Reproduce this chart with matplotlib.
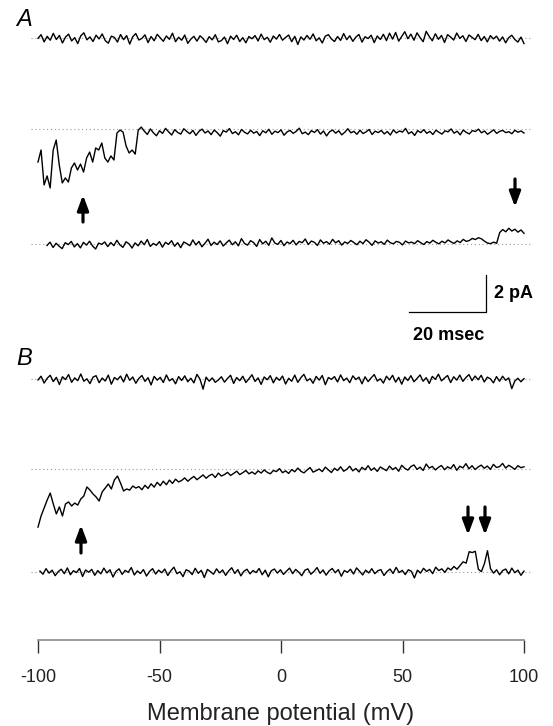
import numpy as np
import matplotlib
matplotlib.use("Agg")
import matplotlib.pyplot as plt

plt.rcParams['font.family'] = ['Liberation Sans', 'DejaVu Sans']
plt.rcParams['axes.unicode_minus'] = False

# Corrientes (pA), rampa de -100 a 100 mV
# A, registro superior (sin canales)
a1_cur = [
    -0.02, 0.18, -0.21, 0.09, -0.12, 0.25, -0.08, 0.14, -0.27, 0.05, 0.21, -0.16, 0.02, -0.30, 0.12, 0.28, -0.10, 0.06, -0.19, 0.15,
    -0.05, 0.22, -0.14, -0.28, 0.10, 0.03, -0.22, 0.19, -0.09, 0.13, -0.33, 0.07, 0.24, -0.11, -0.02, 0.17, -0.25, 0.08, -0.15, 0.20,
    0.01, -0.18, 0.11, -0.07, 0.26, -0.20, 0.04, -0.12, 0.16, -0.29, -0.06, 0.09, -0.17, 0.12, -0.03, -0.24, 0.07, -0.10, 0.18, -0.21,
    -0.14, 0.05, -0.31, 0.10, -0.08, 0.15, -0.19, 0.02, -0.26, 0.08, -0.04, 0.13, -0.16, 0.21, -0.09, 0.04, -0.23, 0.11, -0.06, 0.19,
    -0.12, 0.03, 0.16, -0.20, 0.09, -0.35, 0.06, -0.11, 0.14, -0.07, 0.22, -0.15, 0.01, -0.27, 0.10, 0.18, -0.05, -0.19, 0.08, -0.13,
    0.24, -0.09, 0.12, -0.18, 0.05, 0.19, -0.22, 0.07, -0.03, 0.15, -0.25, 0.11, -0.08, 0.20, -0.14, 0.26, -0.06, 0.30, -0.17, 0.09,
    0.34, -0.04, 0.21, -0.12, 0.28, 0.02, -0.20, 0.36, 0.08, -0.15, 0.23, -0.07, 0.14, -0.24, 0.18, 0.05, -0.11, 0.27, -0.02, 0.12,
    -0.19, 0.16, 0.04, -0.09, 0.20, -0.14, 0.08, -0.21, 0.13, -0.05, 0.10, -0.17, 0.06, -0.26, 0.02, 0.15, -0.08, -0.22, 0.05, -0.30,
]

# A, registro medio (canal abierto al inicio de la rampa)
a2_cur = [
    -1.77, -1.12, -3.01, -2.52, -3.17, -1.12, -0.58, -1.93, -2.90, -2.63, -2.85, -2.09, -1.82, -2.20, -1.88, -2.31, -1.55,
    -1.23, -1.77, -1.01, -1.12, -0.74, -1.55, -1.77, -1.44, -1.66, -0.20, -0.04, -0.15, -0.90, -1.28, -1.12, -1.34, -0.04, 0.12,
    -0.10, -0.28, 0.02, -0.19, -0.35, -0.08, -0.22, 0.05, -0.14, -0.31, -0.02, -0.17, -0.26, 0.03, -0.12, -0.24, -0.06, -0.33, -0.11, 0.01,
    -0.20, -0.09, -0.29, -0.04, -0.18, -0.37, -0.07, -0.15, 0.04, -0.23, -0.13, -0.30, -0.01, -0.16, -0.25, -0.05, -0.21, -0.12, -0.34, -0.08,
    -0.19, 0.00, -0.27, -0.10, -0.18, -0.03, -0.32, -0.14, -0.06, -0.22, -0.11, 0.06, -0.24, -0.15, -0.29, -0.07, -0.17, -0.02, -0.26, -0.09,
    -0.36, -0.13, -0.04, -0.21, -0.08, -0.30, -0.16, 0.03, -0.19, -0.11, -0.27, -0.05, -0.23, -0.14, -0.01, -0.28, -0.10, -0.18, -0.06, -0.25,
    -0.12, -0.31, -0.03, -0.20, -0.09, -0.15, 0.05, -0.24, -0.13, -0.33, -0.07, -0.18, -0.02, -0.22, -0.11, -0.28, -0.05, -0.16, -0.26, -0.08,
    -0.14, 0.02, -0.21, -0.10, -0.30, -0.04, -0.17, -0.25, -0.07, -0.12, 0.01, -0.19, -0.09, -0.27, -0.15, -0.03, -0.22, -0.11, -0.06, -0.18,
    -0.13, -0.24, -0.05, -0.16, -0.09, -0.20,
]

# A, registro inferior (apertura al final de la rampa)
a3_cur = [
    -0.08, 0.10, -0.19, 0.04, -0.12, -0.25, 0.07, -0.03, 0.14, -0.16, 0.02, -0.21, 0.09, -0.06, 0.15, -0.11, -0.27, 0.05, -0.02, 0.11,
    -0.14, 0.08, -0.09, 0.20, -0.05, -0.18, 0.12, 0.01, -0.22, 0.06, -0.10, 0.16, -0.04, 0.24, -0.13, 0.03, -0.07, 0.13, -0.17, 0.09,
    -0.02, 0.18, -0.12, 0.07, -0.20, 0.11, 0.02, -0.09, 0.22, -0.05, 0.14, -0.15, 0.04, 0.26, -0.08, 0.10, -0.03, 0.17, -0.11, 0.06,
    0.21, -0.04, 0.12, -0.10, 0.29, 0.03, -0.06, 0.18, 0.08, -0.13, 0.24, 0.01, 0.15, -0.07, 0.33, 0.05, -0.02, 0.19, -0.09, 0.11,
    0.02, 0.20, -0.05, 0.14, 0.07, 0.27, -0.03, 0.16, 0.09, -0.08, 0.22, 0.04, 0.13, -0.01, 0.25, 0.06, 0.18, -0.06, 0.11, 0.03,
    0.19, 0.08, -0.04, 0.15, 0.02, 0.23, 0.10, -0.07, 0.17, 0.05, 0.12, -0.02, 0.21, 0.07, 0.01, 0.14, 0.09, -0.05, 0.16, 0.06,
    0.10, 0.02, 0.18, 0.07, -0.03, 0.13, 0.05, 0.20, 0.09, 0.01, 0.15, 0.06, 0.22, 0.11, 0.03, 0.17, 0.08, 0.25, 0.14, 0.19,
    0.30, 0.24, 0.34, 0.28, 0.15, 0.05, 0.02, 0.10, 0.04,
    0.62, 0.78, 0.66, 0.85, 0.70, 0.80, 0.64, 0.76, 0.58,
]

# B, registro superior
b1_cur = [
    -0.05, 0.15, -0.22, 0.04, 0.20, -0.14, 0.09, -0.30, 0.12, -0.03, 0.24, -0.18, 0.06, -0.09, 0.27, -0.12, 0.01, -0.25, 0.10, 0.18,
    -0.20, 0.05, -0.11, 0.21, -0.28, 0.08, -0.04, 0.16, -0.16, 0.26, -0.07, 0.11, -0.23, 0.03, 0.19, -0.13, 0.07, -0.32, 0.14, -0.06,
    0.09, -0.19, 0.22, -0.10, 0.02, -0.26, 0.13, -0.08, 0.17, -0.15, 0.04, -0.21, 0.25, -0.01, -0.55, 0.10, -0.12, 0.06, -0.18, -0.05,
    0.12, -0.17, 0.03, 0.20, -0.24, 0.08, -0.09, 0.15, -0.19, 0.01, 0.23, -0.13, 0.06, -0.29, 0.11, -0.04, 0.18, -0.21, 0.09, -0.07,
    0.16, -0.27, 0.04, -0.12, 0.21, -0.18, 0.07, 0.25, -0.10, 0.02, -0.23, 0.14, -0.06, 0.19, -0.31, 0.08, -0.02, 0.13, -0.16, 0.22,
    -0.09, 0.05, -0.20, 0.17, -0.03, 0.10, -0.26, 0.12, -0.14, 0.06, 0.24, -0.11, 0.01, -0.22, 0.15, -0.05, 0.20, -0.17, 0.09, -0.28,
    0.11, -0.08, 0.18, -0.15, 0.03, 0.22, -0.12, 0.07, -0.24, 0.14, -0.02, 0.26, -0.10, 0.05, 0.19, -0.19, 0.12, -0.06, 0.21, -0.13,
    0.08, 0.24, -0.09, 0.16, -0.04, 0.20, -0.16, 0.10, 0.01, -0.21, 0.13, -0.12, 0.15, -0.07, 0.06, -0.52, -0.11, 0.04, -0.15, 0.02,
]

# B, registro medio (cierre lento)
b2_cur = [
    -3.14, -2.54, -2.11, -1.68, -1.30, -1.89, -2.43, -2.05, -2.54, -1.89, -1.78, -2.00, -1.84, -1.95, -1.62, -1.46, -0.97,
    -1.14, -1.35, -1.51, -1.73, -1.24, -1.03, -0.81, -1.08, -0.59, -0.38, -0.76, -1.19, -1.08, -1.14, -0.92, -1.03,
    -0.95, -1.12, -0.88, -1.05, -0.80, -0.98, -0.72, -0.90, -0.66, -0.85, -0.60, -0.78, -0.55, -0.70, -0.62, -0.48, -0.66, -0.52, -0.40, -0.58,
    -0.45, -0.32, -0.50, -0.36, -0.28, -0.46, -0.22, -0.38, -0.30, -0.18, -0.35, -0.24, -0.12, -0.30, -0.20, -0.08, -0.26, -0.16, -0.28, -0.10,
    -0.22, -0.05, -0.18, -0.26, -0.08, -0.14, 0.02, -0.20, -0.10, -0.24, -0.03, -0.15, 0.05, -0.12, -0.21, -0.06, 0.08, -0.17, -0.09, 0.00,
    -0.14, 0.10, -0.05, -0.19, 0.04, -0.08, 0.12, -0.12, -0.02, 0.15, -0.10, 0.03, -0.16, 0.09, -0.04, 0.18, -0.07, 0.06, -0.13, 0.11,
    0.01, -0.09, 0.16, -0.03, 0.08, -0.12, 0.20, 0.04, -0.06, 0.13, 0.22, -0.02, 0.10, -0.08, 0.27, 0.05, 0.14, -0.05, 0.09, 0.19,
    -0.04, 0.12, 0.02, 0.24, -0.07, 0.15, 0.06, 0.29, 0.01, 0.18, -0.03, 0.11, 0.21, 0.04, 0.16, -0.02, 0.25, 0.08, 0.13, 0.30,
    0.05, 0.20, 0.10, -0.02, 0.18, 0.07, 0.12,
]

# B, registro inferior (dos aperturas breves)
b3_cur = [
    0.05, -0.12, 0.18, -0.06, 0.10, -0.20, 0.02, 0.15, -0.09, 0.22, -0.15, 0.07, -0.03, 0.19, -0.24, 0.11, -0.01, 0.14, -0.18, 0.08,
    -0.10, 0.21, -0.05, 0.12, -0.27, 0.04, 0.17, -0.13, 0.09, -0.02, 0.24, -0.16, 0.06, -0.08, 0.13, -0.22, 0.03, 0.18, -0.11, 0.10,
    -0.04, 0.16, -0.19, 0.07, 0.26, -0.09, 0.01, -0.25, 0.12, 0.05, -0.14, 0.20, -0.07, 0.09, -0.30, 0.14, 0.02, -0.12, 0.17, -0.05,
    0.11, -0.18, 0.06, 0.23, -0.08, 0.13, -0.21, 0.04, 0.15, -0.10, 0.08, -0.03, 0.19, -0.15, 0.10, -0.26, 0.07, 0.16, -0.06, 0.12,
    -0.13, 0.05, 0.21, -0.09, 0.14, -0.01, -0.20, 0.09, 0.17, -0.12, 0.03, 0.24, -0.07, 0.11, -0.17, 0.06, 0.19, -0.04, 0.13, -0.23,
    0.08, -0.02, 0.15, -0.11, 0.22, 0.04, -0.16, 0.10, -0.05, 0.18, -0.09, 0.07, 0.13, -0.19, 0.02, 0.16, -0.08, 0.25, -0.03, 0.09,
    -0.14, 0.12, 0.04, -0.32, 0.10, -0.06, 0.20, 0.03, 0.14, -0.09, 0.26, 0.08, 0.17, -0.02, 0.22, 0.11, 0.30, 0.15, 0.35, 0.55,
    0.48, 1.10, 1.05, 1.12, 0.15, 0.02, 0.45, 1.15, 0.18, -0.06, 0.12, -0.15, 0.08, 0.16, -0.10, 0.21, -0.04, 0.10, -0.18, 0.05,
]

# inicio y fin de cada registro en la rampa (mV)
a_starts = [-100.0, -100.0, -96.3]
b_starts = [-100.0, -100.0, -99.2]
ramp_end = 100.0

tick_vals = [-100, -50, 0, 50, 100]
tick_labels = ['-100', '-50', '0', '50', '100']

# disposicion (filas en pixeles de la figura)
PX_PA = 18.5
rows_a = [38, 129.3, 244]
rows_b = [379, 469, 572]

fig = plt.figure(figsize=(5.53, 7.26), dpi=100)
ax = fig.add_axes([38 / 553, 86 / 726, 486 / 553, 640 / 726])
ax.set_xlim(-100, 100)
ax.set_ylim(640, 0)

def mv(px):
    return (px - 38) / 2.43 - 100

traces = list(zip(a_starts, rows_a, [a1_cur, a2_cur, a3_cur])) + \
    list(zip(b_starts, rows_b, [b1_cur, b2_cur, b3_cur]))

for start, row, cur in traces:
    cur = np.asarray(cur)
    x = np.linspace(start, ramp_end, len(cur))
    ax.plot([mv(31), mv(530)], [row, row], color='#9a9a9a', lw=0.8,
            linestyle=(0, (1, 2.5)), clip_on=False, zorder=1)
    ax.plot(x, row - cur * PX_PA, color='black', lw=1.0, clip_on=False, zorder=2)

# flechas
arrow_kw = dict(arrowstyle='-|>,head_width=0.28,head_length=0.75', lw=2.3,
                color='black', shrinkA=0, shrinkB=0, mutation_scale=12)
ax.annotate('', xy=(mv(83), 195), xytext=(mv(83), 222), arrowprops=arrow_kw, annotation_clip=False)
ax.annotate('', xy=(mv(515), 207), xytext=(mv(515), 179), arrowprops=arrow_kw, annotation_clip=False)
ax.annotate('', xy=(mv(81), 525), xytext=(mv(81), 553), arrowprops=arrow_kw, annotation_clip=False)
ax.annotate('', xy=(mv(468), 535), xytext=(mv(468), 507), arrowprops=arrow_kw, annotation_clip=False)
ax.annotate('', xy=(mv(485), 535), xytext=(mv(485), 507), arrowprops=arrow_kw, annotation_clip=False)

# barra de escala
ax.plot([mv(409), mv(486), mv(486)], [312, 312, 312 - 2 * PX_PA], color='black', lw=0.9)
ax.text(mv(494), 294, '2 pA', fontsize=13, fontweight='bold', va='center', ha='left')
ax.text(mv(413), 336, '20 msec', fontsize=13, fontweight='bold', va='center', ha='left')

fig.text(16 / 553, 1 - 26 / 726, 'A', fontsize=17, style='italic', va='baseline')
fig.text(16 / 553, 1 - 365 / 726, 'B', fontsize=17, style='italic', va='baseline')

for s in ['top', 'right', 'left']:
    ax.spines[s].set_visible(False)
ax.spines['bottom'].set_color('#8a8a8a')
ax.spines['bottom'].set_linewidth(1.2)
ax.set_yticks([])
ax.set_xticks(tick_vals)
ax.set_xticklabels(tick_labels)
ax.tick_params(axis='x', direction='out', length=9, width=1, color='#333333',
               pad=12, labelsize=13, labelcolor='#222222')
ax.set_xlabel('Membrane potential (mV)', fontsize=17, color='#222222')
ax.xaxis.set_label_coords(0.5, -0.099)
ax.patch.set_visible(False)

fig.savefig('out.png', dpi=100)
